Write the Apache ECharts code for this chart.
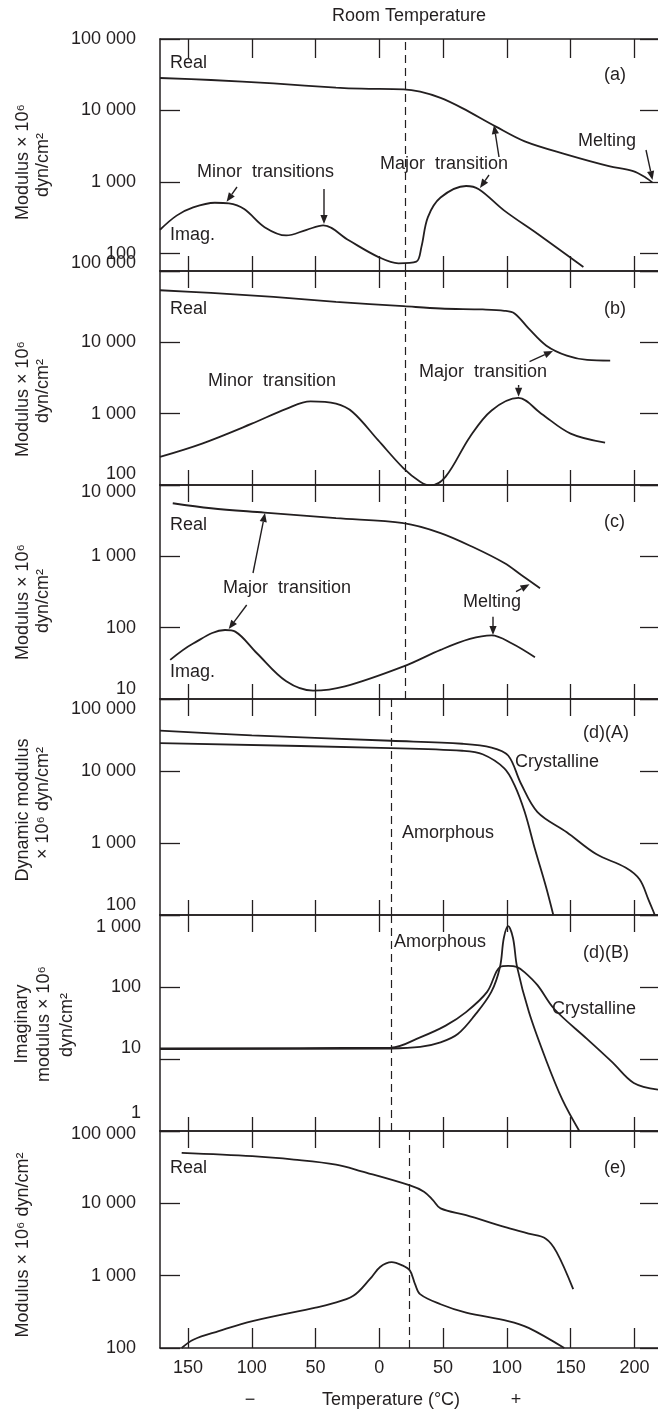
<!DOCTYPE html>
<html><head><meta charset="utf-8">
<script src="https://cdn.jsdelivr.net/npm/echarts@6/dist/echarts.min.js"></script>
<style>html,body{margin:0;padding:0;background:#fff}#c{width:658px;height:1410px}</style>
</head><body><div id="c"></div>
<script>
// ---------- DATA ----------
const xTickValues = [-150, -100, -50, 0, 50, 100, 150, 200];
const xTickLabels = ['150', '100', '50', '0', '50', '100', '150', '200'];
const yTickValues = [1, 10, 100, 1000, 10000, 100000];
const yTickLabels = ['1', '10', '100', '1 000', '10 000', '100 000'];
const roomTemp = [20, 20, 20, 9, 9, 23.5];

const aReal = [[-172,28500],[-132,26700],[-83,23900],[-34,20900],[-14,20200],[19,19800],[32,18300],[48,15000],[65,10800],[91,6000],[114,3700],[147,2420],[180,1670],[199,1420],[209,1150],[214,990]];
const aImag = [[-172,215],[-159,339],[-146,442],[-129,513],[-118,502],[-106,419],[-90,234],[-73,179],[-57,215],[-44,247],[-24,153],[-1,90],[15,73],[29,77],[33,124],[38,321],[48,607],[68,880],[78,793],[98,398],[124,189],[160,65]];
const bReal = [[-172,53700],[-132,49300],[-83,43300],[-34,36900],[19,32100],[48,29800],[81,28900],[98,27700],[106,25400],[117,15700],[131,8980],[147,6510],[163,5660],[181,5540]];
const bImag = [[-172,248],[-139,381],[-100,724],[-73,1170],[-54,1490],[-34,1380],[-21,1055],[-1,425],[19,171],[32,111],[40,98],[52,131],[71,472],[88,1110],[109,1660],[127,1000],[150,526],[177,394]];
const cReal = [[-162,5550],[-132,4720],[-90,4110],[-34,3430],[19,2920],[48,2120],[75,1307],[98,805],[111,552],[126,358]];
const cImag = [[-164,35.4],[-146,60],[-121,92.7],[-113,88],[-96,43.8],[-73,17.7],[-52,13.1],[-27,15],[19,28.6],[48,48.8],[71,69.5],[88,78],[104,60],[122,38.5]];
const dACryst = [[-172,36400],[-100,31300],[9,26300],[65,23900],[88,21200],[101,16400],[111,6710],[124,2690],[147,1410],[170,702],[193,456],[204,313],[211,164],[216,100]];
const dAAmorph = [[-172,24400],[9,20800],[65,19100],[81,17100],[98,10900],[106,6370],[114,2690],[122,824],[130.5,252],[136.4,100]];
const dBCryst = [[-172,14.0],[9,14.4],[32,20],[52,29.1],[68,44.8],[84.5,85.5],[94.6,190],[101,197],[107.7,190],[114,160],[124,106],[137,49.9],[163,18.9],[183,8.9],[199.5,4.65],[218.5,3.75]];
const dBAmorph = [[-172,13.7],[9,14],[32,14.7],[48,17],[61.5,22.2],[74.6,40],[87.8,85.5],[94.6,190],[97.6,480],[101,700],[104.8,480],[108,190],[117.3,44.8],[130.5,9.9],[143.6,2.7],[156.8,1]];
const eReal = [[-155,49900],[-99.5,44800],[-67,40200],[-34,34300],[-14,27700],[24,17700],[35,14500],[42,11100],[48,8510],[68,6870],[98,4720],[117,3810],[130.5,3250],[139,2120],[152,652]];
const eImag = [[-155,100],[-145.5,131],[-126,171],[-99.5,236],[-50,362],[-38.7,403],[-20.4,526],[-7.3,900],[0.6,1320],[9.7,1540],[17.5,1400],[24,1174],[28,765],[31.9,556],[48,403],[68,308],[101,236],[117,190],[145,100]];

// ---------- LAYOUT ----------
const INK = '#231f20';
const FONT = '"Liberation Sans", Arial, sans-serif';
const panels = [
  {top: 39, height: 232, min: 57, max: 100000, shifts: {}, series: [aReal, aImag], bt: 15, tt: 19},
  {top: 271, height: 214, min: 100, max: 100000, shifts: {100000: -8, 100: -11}, series: [bReal, bImag], bt: 15, tt: 17},
  {top: 485, height: 214, min: 10, max: 10000, shifts: {10000: 7, 10: -10}, series: [cReal, cImag], bt: 15, tt: 17},
  {top: 699, height: 216, min: 100, max: 100000, shifts: {100000: 10, 100: -10}, series: [dACryst, dAAmorph], bt: 15, tt: 17},
  {top: 915, height: 216, min: 1, max: 1000, shifts: {1000: 12, 10: -11, 1: -18}, series: [dBCryst, dBAmorph], bt: 14, tt: 17, lm: 19},
  {top: 1131, height: 217, min: 100, max: 100000, shifts: {100000: 3}, series: [eReal, eImag], bt: 20, tt: 17}
];

function labelFor(v) {
  const e = Math.log10(v);
  if (Math.abs(e - Math.round(e)) > 1e-6) return null;
  const i = yTickValues.findIndex(t => Math.abs(Math.log10(t) - e) < 1e-6);
  return i < 0 ? null : {key: Math.round(Math.pow(10, Math.round(e))), text: yTickLabels[i]};
}

const grid = [], xAxis = [], yAxis = [], series = [];
panels.forEach((p, k) => {
  grid.push({left: 160, right: 0, top: p.top, height: p.height});
  const last = k === panels.length - 1;
  xAxis.push({
    type: 'value', gridIndex: k, min: -172, max: 218.5, position: 'bottom',
    axisLine: {show: true, onZero: false, lineStyle: {color: INK, width: 1.5}},
    axisTick: {show: true, inside: true, length: p.bt, customValues: xTickValues, lineStyle: {color: INK, width: 1.3}},
    axisLabel: last ? {show: true, customValues: xTickValues, margin: 11, color: INK, fontSize: 18, fontFamily: FONT,
      formatter: v => { const i = xTickValues.indexOf(Math.round(v)); return i < 0 ? '' : xTickLabels[i]; }} : {show: false},
    splitLine: {show: false}
  });
  xAxis.push({
    type: 'value', gridIndex: k, min: -172, max: 218.5, position: 'top',
    axisLine: {show: true, onZero: false, lineStyle: {color: INK, width: 1.5}},
    axisTick: {show: true, inside: true, length: p.tt, customValues: xTickValues, lineStyle: {color: INK, width: 1.3}},
    axisLabel: {show: false}, splitLine: {show: false}
  });
  const rich = {};
  Object.keys(p.shifts).forEach(key => {
    const s = p.shifts[key];
    rich['s' + key] = {fontSize: 18, fontFamily: FONT, color: INK,
      padding: s < 0 ? [0, 0, -2 * s, 0] : [2 * s, 0, 0, 0]};
  });
  yAxis.push({
    type: 'log', gridIndex: k, min: p.min, max: p.max, position: 'left', logBase: 10,
    axisLine: {show: true, onZero: false, lineStyle: {color: INK, width: 1.5}},
    axisTick: {show: true, inside: true, length: 20, lineStyle: {color: INK, width: 1.3}},
    axisLabel: {show: true, margin: p.lm || 24, color: INK, fontSize: 18, fontFamily: FONT, rich,
      formatter: v => { const l = labelFor(v); if (!l) return ''; return p.shifts[l.key] !== undefined ? '{s' + l.key + '|' + l.text + '}' : l.text; }},
    splitLine: {show: false}
  });
  yAxis.push({
    type: 'log', gridIndex: k, min: p.min, max: p.max, position: 'right', logBase: 10,
    axisLine: {show: false, onZero: false},
    axisTick: {show: true, inside: true, length: 18, lineStyle: {color: INK, width: 1.3}},
    axisLabel: {show: false}, splitLine: {show: false}
  });
  p.series.forEach((d, j) => {
    series.push({
      type: 'line', xAxisIndex: 2 * k, yAxisIndex: 2 * k, data: d, smooth: 0.35, symbol: 'none',
      lineStyle: {color: INK, width: 1.8}, silent: true, animation: false,
      markLine: j === 0 ? {silent: true, symbol: ['none', 'none'], label: {show: false},
        lineStyle: {type: [8, 5], color: INK, width: 1.2}, data: [{xAxis: roomTemp[k]}], animation: false} : undefined
    });
  });
});

// ---------- ANNOTATIONS ----------
const g = [];
function txt(s, x, y, opt) {
  g.push(Object.assign({type: 'text', x, y, silent: true, style: Object.assign({text: s, fill: INK, fontSize: 18, fontFamily: FONT, align: 'left', verticalAlign: 'middle'}, (opt && opt.style) || {})}, opt && opt.rot ? {rotation: Math.PI / 2} : {}));
}
function vtxt(s, x, y) { txt(s, x, y, {rot: true, style: {align: 'center'}}); }
function arrow(x1, y1, x2, y2) {
  const a = Math.atan2(y2 - y1, x2 - x1), L = 9, W = 3.6;
  const bx = x2 - L * Math.cos(a), by = y2 - L * Math.sin(a);
  g.push({type: 'line', silent: true, shape: {x1, y1, x2: bx, y2: by}, style: {stroke: INK, lineWidth: 1.4}});
  g.push({type: 'polygon', silent: true, shape: {points: [[x2, y2], [bx + W * Math.sin(a), by - W * Math.cos(a)], [bx - W * Math.sin(a), by + W * Math.cos(a)]]}, style: {fill: INK}});
}
txt('Room Temperature', 409, 16, {style: {align: 'center'}});
// (a)
txt('Real', 170, 63); txt('(a)', 604, 75); txt('Minor  transitions', 197, 172); txt('Major  transition', 380, 164);
txt('Melting', 578, 141); txt('Imag.', 170, 235);
arrow(237, 187, 226.6, 201.7); arrow(324, 189, 324, 224); arrow(499, 157, 494, 125); arrow(489, 175, 480, 188); arrow(646, 150, 652.5, 180);
// (b)
txt('Real', 170, 309); txt('(b)', 604, 309); txt('Minor  transition', 208, 381); txt('Major  transition', 419, 372);
arrow(529.5, 361.7, 553, 351); arrow(518.6, 385, 518.6, 396.7);
// (c)
txt('Real', 170, 525); txt('(c)', 604, 522); txt('Major  transition', 223, 588); txt('Melting', 463, 602); txt('Imag.', 170, 672);
arrow(253, 573, 265, 513); arrow(246.7, 605, 228.7, 629); arrow(516, 591.7, 529.5, 584.3); arrow(493, 616.7, 493, 635);
// (d)(A)
txt('(d)(A)', 583, 733); txt('Crystalline', 515, 762); txt('Amorphous', 402, 833);
// (d)(B)
txt('Amorphous', 394, 942); txt('(d)(B)', 583, 953); txt('Crystalline', 552, 1009);
// (e)
txt('Real', 170, 1168); txt('(e)', 604, 1168);
txt('\u2212', 250, 1400, {style: {align: 'center'}}); txt('Temperature (\u00B0C)', 391, 1400, {style: {align: 'center'}}); txt('+', 516, 1400, {style: {align: 'center'}});
// y-axis titles
vtxt('Modulus \u00D7 10\u2076', 23, 162); vtxt('dyn/cm\u00B2', 43, 165);
vtxt('Modulus \u00D7 10\u2076', 23, 399); vtxt('dyn/cm\u00B2', 43, 391);
vtxt('Modulus \u00D7 10\u2076', 23, 602); vtxt('dyn/cm\u00B2', 43, 601);
vtxt('Dynamic modulus', 23, 810); vtxt('\u00D7 10\u2076 dyn/cm\u00B2', 43, 803);
vtxt('Imaginary', 22, 1024); vtxt('modulus \u00D7 10\u2076', 44, 1024); vtxt('dyn/cm\u00B2', 67, 1025);
vtxt('Modulus \u00D7 10\u2076 dyn/cm\u00B2', 23, 1245);

const chart = echarts.init(document.getElementById('c'), null, {renderer: 'canvas'});
chart.setOption({animation: false, backgroundColor: '#fff', textStyle: {fontFamily: FONT}, grid, xAxis, yAxis, series, graphic: g});
</script></body></html>
